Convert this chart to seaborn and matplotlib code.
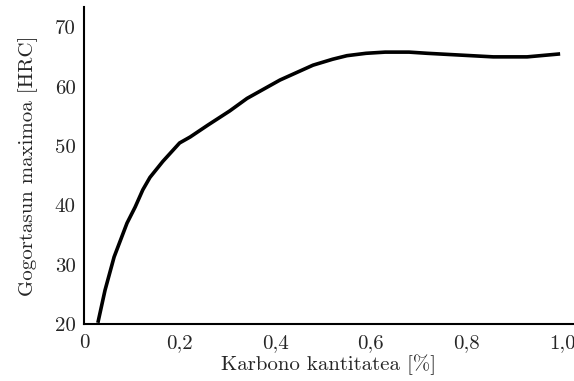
import matplotlib
matplotlib.use("Agg")
import matplotlib.pyplot as plt
import seaborn as sns
import pandas as pd

carbon = [0.029, 0.044, 0.063, 0.090, 0.107, 0.123, 0.138, 0.165, 0.200, 0.222, 0.259,
          0.305, 0.341, 0.410, 0.479, 0.520, 0.550, 0.590, 0.630, 0.680, 0.718, 0.787, 0.856, 0.927, 0.996]
hardness = [20.2, 25.7, 31.3, 37.0, 39.7, 42.6, 44.7, 47.4, 50.5, 51.5, 53.5,
            55.9, 58.0, 61.1, 63.6, 64.6, 65.2, 65.6, 65.8, 65.8, 65.6, 65.3, 65.0, 65.0, 65.5]
xticks = [0, 0.2, 0.4, 0.6, 0.8, 1.0]
xticklabels = ["0", "0,2", "0,4", "0,6", "0,8", "1,0"]
yticks = [20, 30, 40, 50, 60, 70]
yticklabels = ["20", "30", "40", "50", "60", "70"]

sns.set_style("white")
plt.rcParams["font.family"] = ["cmr10", "DejaVu Serif"]
plt.rcParams["axes.formatter.use_mathtext"] = True

df = pd.DataFrame({"x": carbon, "y": hardness})
fig = plt.figure(figsize=(5.74, 3.81), dpi=100)
ax = fig.add_axes([84/574, 1-324/381, 1-84/574, (324-7)/381])
sns.lineplot(data=df, x="x", y="y", ax=ax, color="black", linewidth=2.6)
for line in ax.get_lines():
    line.set_solid_joinstyle("round")
    line.set_solid_capstyle("butt")
ax.set_xlim(0, 1.025)
ax.set_ylim(20, 73.4)
ax.set_xticks(xticks)
ax.set_xticklabels(xticklabels)
ax.set_yticks(yticks)
ax.set_yticklabels(yticklabels)
ax.tick_params(axis="x", length=0, labelsize=15, pad=7)
ax.tick_params(axis="y", length=0, labelsize=15, pad=6)
ax.set_xlabel("Karbono kantitatea [%]", fontsize=15, labelpad=2)
ax.set_ylabel("Gogortasun maximoa [HRC]", fontsize=15, labelpad=12)
for s in ["top", "right"]:
    ax.spines[s].set_visible(False)
for s in ["left", "bottom"]:
    ax.spines[s].set_linewidth(1.5)
    ax.spines[s].set_color("black")
fig.savefig("out.png", dpi=100)
